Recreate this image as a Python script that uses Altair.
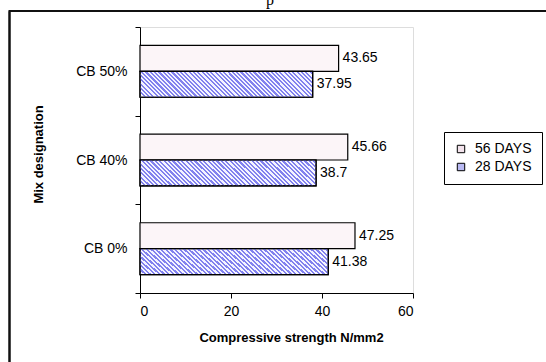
import altair as alt
import pandas as pd

# ---- data ----
mixes = ["CB 0%", "CB 40%", "CB 50%"]
mix_order = ["CB 50%", "CB 40%", "CB 0%"]
series = ["56 DAYS", "28 DAYS"]
days56 = [47.25, 45.66, 43.65]
days28 = [41.38, 38.7, 37.95]
x_ticks = [0, 20, 40, 60]

rows = []
for m, a, b in zip(mixes, days56, days28):
    rows.append({"mix": m, "series": "56 DAYS", "value": a, "label": str(a)})
    rows.append({"mix": m, "series": "28 DAYS", "value": b, "label": str(b)})
df = pd.DataFrame(rows)

FONT = "Liberation Sans"
TOP = 27
W, H = 273, 266

y_enc = alt.Y("mix:N", sort=mix_order,
              scale=alt.Scale(paddingInner=0, paddingOuter=0),
              axis=alt.Axis(title="Mix designation", labelFontSize=14, labelFont=FONT,
                            labelColor="black", labelPadding=8, tickBand="extent",
                            tickSize=5, tickColor="black", domainColor="black",
                            titleFont=FONT, titleFontSize=13, titleFontWeight="bold",
                            titleColor="black", titleAngle=270, titleX=-102, titleY=154 - TOP,
                            titleBaseline="middle", titleAlign="center"))
yoff_enc = alt.YOffset("series:N", sort=series,
                       scale=alt.Scale(domain=series, paddingInner=0, paddingOuter=0.71))
x_enc = alt.X("value:Q", scale=alt.Scale(domain=[0, 60], nice=False),
              axis=alt.Axis(values=x_ticks, title="Compressive strength N/mm2",
                            labelFontSize=14, labelFont=FONT, labelColor="black",
                            labelPadding=6, tickSize=5, tickColor="black",
                            domainColor="black", grid=False, titleFont=FONT,
                            titleFontSize=13, titleFontWeight="bold", titleColor="black",
                            titleX=151, titleY=44, titleBaseline="middle"))

base = alt.Chart(df)

bars = base.mark_bar(stroke="black", strokeWidth=1.2).encode(
    y=y_enc, yOffset=yoff_enc, x=x_enc,
    fill=alt.condition(alt.datum.series == "56 DAYS", alt.value("#fcf5f8"), alt.value("#f4f4ff")),
)

# diagonal stripe overlay for 28 DAYS bars
N = 46
stripe = "#8282ee"
stops = []
for i in range(N):
    a0 = i / N
    a1 = (i + 0.5) / N
    a2 = (i + 1) / N
    stops += [{"offset": a0, "color": stripe}, {"offset": a1, "color": stripe},
              {"offset": a1, "color": "rgba(255,255,255,0)"},
              {"offset": a2, "color": "rgba(255,255,255,0)"}]
k = 0.15
s = (1 + k) / (1 + k * k)
grad = {"gradient": "linear", "x1": 0, "y1": 1, "x2": s, "y2": 1 - s * k, "stops": stops}

stripes = base.transform_filter(alt.datum.series == "28 DAYS").mark_bar(
    color=grad, strokeWidth=0).encode(y=alt.Y("mix:N", sort=mix_order), yOffset=yoff_enc,
                                      x=alt.X("value:Q"))
outline = base.transform_filter(alt.datum.series == "28 DAYS").mark_bar(
    fillOpacity=0, stroke="black", strokeWidth=1.2).encode(
    y=alt.Y("mix:N", sort=mix_order), yOffset=yoff_enc, x=alt.X("value:Q"))

labels = base.mark_text(align="left", baseline="middle", dx=4, fontSize=14,
                        font=FONT, color="black").encode(
    y=alt.Y("mix:N", sort=mix_order), yOffset=yoff_enc, x=alt.X("value:Q"),
    text="label:N")

legend_layer = base.mark_square(opacity=0).encode(
    y=alt.Y("mix:N", sort=mix_order), x=alt.X("value:Q"),
    fill=alt.Fill("series:N", sort=series,
                  scale=alt.Scale(domain=series, range=["#f3e3ec", "#b9b9f2"]),
                  legend=alt.Legend(title=None, orient="none", legendX=304, legendY=132 - TOP,
                                    padding=10, strokeColor="black", fillColor="white",
                                    labelFontSize=14, labelFont=FONT, labelColor="black",
                                    symbolType="square", symbolSize=55,
                                    symbolStrokeColor="black", symbolStrokeWidth=1,
                                    symbolOpacity=1, rowPadding=4, labelOffset=7)),
)

frame_left = alt.Chart(pd.DataFrame({"k": [1]})).mark_rule(color="#111", strokeWidth=2.5).encode(
    x=alt.value(-130.5), y=alt.value(11 - TOP + 0.5), y2=alt.value(H + 80))
frame_top = alt.Chart(pd.DataFrame({"k": [1]})).mark_rule(color="#111", strokeWidth=2).encode(
    x=alt.value(-131.5), x2=alt.value(W + 140), y=alt.value(11 - TOP))

top_title = alt.Chart(pd.DataFrame({"t": ["p"]})).mark_text(
    font="Liberation Serif", fontSize=16, align="center", baseline="alphabetic",
    color="black").encode(x=alt.value(130), y=alt.value(4.5 - TOP), text="t:N")

chart = alt.layer(bars, stripes, outline, labels, legend_layer,
                  frame_left, frame_top, top_title).properties(
    width=W, height=H,
    autosize=alt.AutoSizeParams(type="none"),
    padding={"left": 140, "top": TOP, "right": 546 - 140 - W, "bottom": 362 - TOP - H},
).configure_view(stroke=None).configure(background="white")

chart.save("out.html", embed_options={"renderer": "svg", "actions": False})
